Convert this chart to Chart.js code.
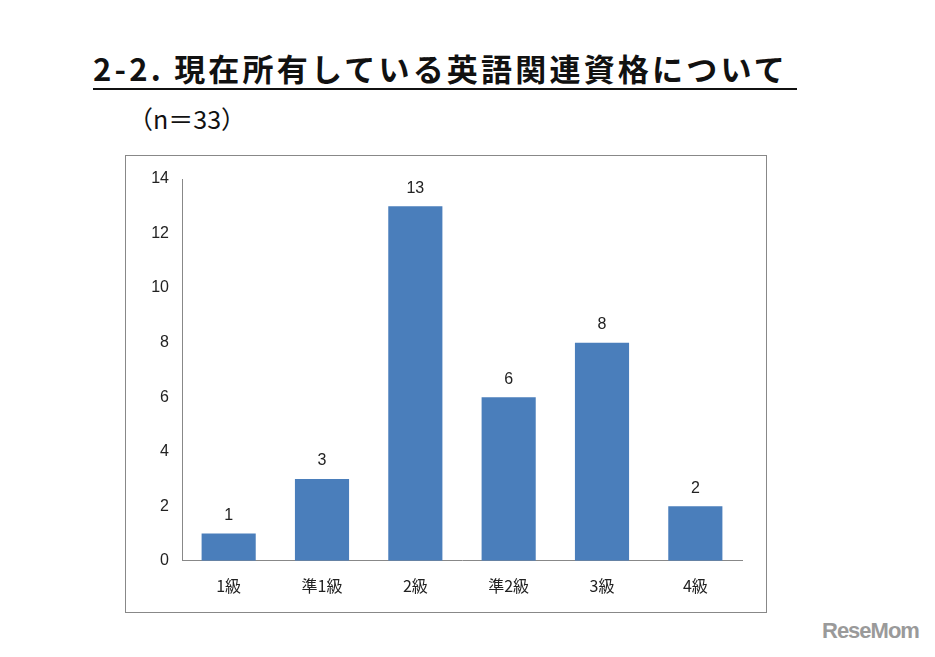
<!DOCTYPE html>
<html><head><meta charset="utf-8">
<script src="https://cdn.jsdelivr.net/npm/chart.js@4"></script>
<style>
body{margin:0;width:935px;height:657px;background:#fff;position:relative;font-family:"Noto Sans CJK JP",sans-serif;overflow:hidden}
#title{position:absolute;left:93px;top:48px;font-size:31px;font-weight:bold;color:#111;border-bottom:2px solid #111;line-height:40px;letter-spacing:3.2px;width:704px;white-space:nowrap}
#n{position:absolute;left:128px;top:100px;font-size:25px;color:#111}
#box{position:absolute;left:125px;top:155px;width:640px;height:456px;border:1.5px solid #888}
#wm{position:absolute;left:822px;top:618px;font-size:22px;font-weight:bold;color:#9a9a9a;font-family:"Liberation Sans",sans-serif;letter-spacing:-1px}
</style></head><body>
<div id="title">2-2. 現在所有している英語関連資格について</div>
<div id="n">（n＝33）</div>
<div id="box"><canvas id="c" width="640" height="456"></canvas></div>
<div id="wm">ReseMom</div>
<script>
const categories=["1級","準1級","2級","準2級","3級","4級"];
const values=[1,3,13,6,8,2];
const yTicks=[0,2,4,6,8,10,12,14];
const labelPlugin={id:'lbl',afterDatasetsDraw(ch){const c=ch.ctx,m=ch.getDatasetMeta(0);c.save();c.font='16px "Liberation Sans"';c.fillStyle='#222';c.textAlign='center';c.textBaseline='bottom';m.data.forEach((b,i)=>c.fillText(values[i],b.x,b.y-10));c.restore();}};
new Chart(document.getElementById('c'),{type:'bar',
data:{labels:categories,datasets:[{data:values,backgroundColor:'#4a7ebb',barPercentage:0.58,categoryPercentage:1}]},
options:{responsive:false,animation:false,layout:{padding:{top:23,right:24,bottom:8,left:0}},
plugins:{legend:{display:false},tooltip:{enabled:false}},
scales:{y:{min:0,max:14,afterFit(s){s.width=56},afterBuildTicks(s){s.ticks=yTicks.map(v=>({value:v}))},
grid:{display:false,drawTicks:true,tickLength:5,color:'#888'},border:{color:'#888'},ticks:{color:'#222',font:{size:16,family:'Liberation Sans'},padding:8}},
x:{grid:{display:false},border:{color:'#888'},ticks:{color:'#222',font:{size:16,family:'Noto Sans CJK JP'},padding:8}}}},
plugins:[labelPlugin]});
</script></body></html>
